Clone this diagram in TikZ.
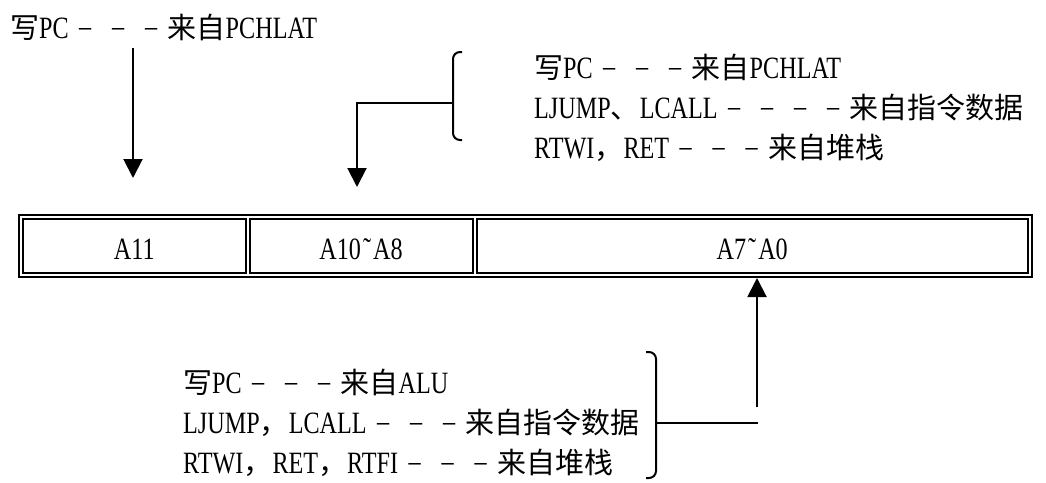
\documentclass[tikz,border=0pt]{standalone}
\usepackage{fontspec}
\setmainfont{Liberation Serif}[FakeStretch=0.78]
\newfontfamily\cjk{Noto Sans CJK SC}[Scale=0.935]
\usetikzlibrary{arrows.meta}
\newcommand\zh[1]{{\cjk #1}}
\newcommand\dsh{\makebox[33pt]{\raisebox{2pt}{–}}}
\newcommand\tld{\kern2pt˜\kern2pt}
\tikzset{
  txt/.style={anchor=base west, inner sep=0pt, font=\fontsize{31pt}{40pt}\selectfont},
  cell/.style={draw, line width=2pt, inner sep=0pt, minimum height=54pt,
    text height=26pt, text depth=0pt, font=\fontsize{31pt}{40pt}\selectfont},
  ln/.style={line width=2pt},
  arr/.style={line width=2pt, -{Triangle[length=19pt,width=19pt]}},
  brk/.style={line width=2pt, rounded corners=7pt}
}
\begin{document}
\begin{tikzpicture}[x=1pt,y=-1pt]
\useasboundingbox (0,0) rectangle (1046,482);
% register frame
\draw[ln] (19,215) rectangle (1032,277);
\node[cell, minimum width=222.5pt] (a11) at (134.25,246) {A11};
\node[cell, minimum width=223pt] (a10) at (361,246) {A10\tld A8};
\node[cell, minimum width=551.5pt] (a7) at (752.25,246) {A7\tld A0};
% top-left label and arrow
\node[txt] (tl) at (10,38) {\zh{写}PC\dsh\dsh\dsh\zh{来自}PCHLAT};
\coordinate (s1) at (133,48);
\coordinate (e1) at (133,178);
\draw[arr] (s1) -- (e1);
% top-right block
\node[txt] (tr1) at (534,78) {\zh{写}PC\dsh\dsh\dsh\zh{来自}PCHLAT};
\node[txt] (tr2) at (534,118) {LJUMP\zh{、}LCALL\dsh\dsh\dsh\dsh\zh{来自指令数据}};
\node[txt] (tr3) at (534,158) {RTWI\zh{，}RET\dsh\dsh\dsh\zh{来自堆栈}};
\draw[brk] (462,52) -- (453,52) -- (453,140) -- (462,140);
\coordinate (b1) at (453,103);
\coordinate (c1) at (357,103);
\coordinate (e2) at (357,187);
\draw[arr] (b1) -- (c1) -- (e2);
% bottom block
\node[txt] (bl1) at (183,393) {\zh{写}PC\dsh\dsh\dsh\zh{来自}ALU};
\node[txt] (bl2) at (183,433) {LJUMP\zh{，}LCALL\dsh\dsh\dsh\zh{来自指令数据}};
\node[txt] (bl3) at (183,473) {RTWI\zh{，}RET\zh{，}RTFI\dsh\dsh\dsh\zh{来自堆栈}};
\draw[brk] (646,352) -- (656,352) -- (656,478) -- (646,478);
\coordinate (b2) at (656,423);
\coordinate (c2) at (758,423);
\draw[ln] (b2) -- (c2);
\coordinate (s3) at (757,407);
\coordinate (e3) at (757,278);
\draw[arr] (s3) -- (e3);
\end{tikzpicture}
\end{document}
